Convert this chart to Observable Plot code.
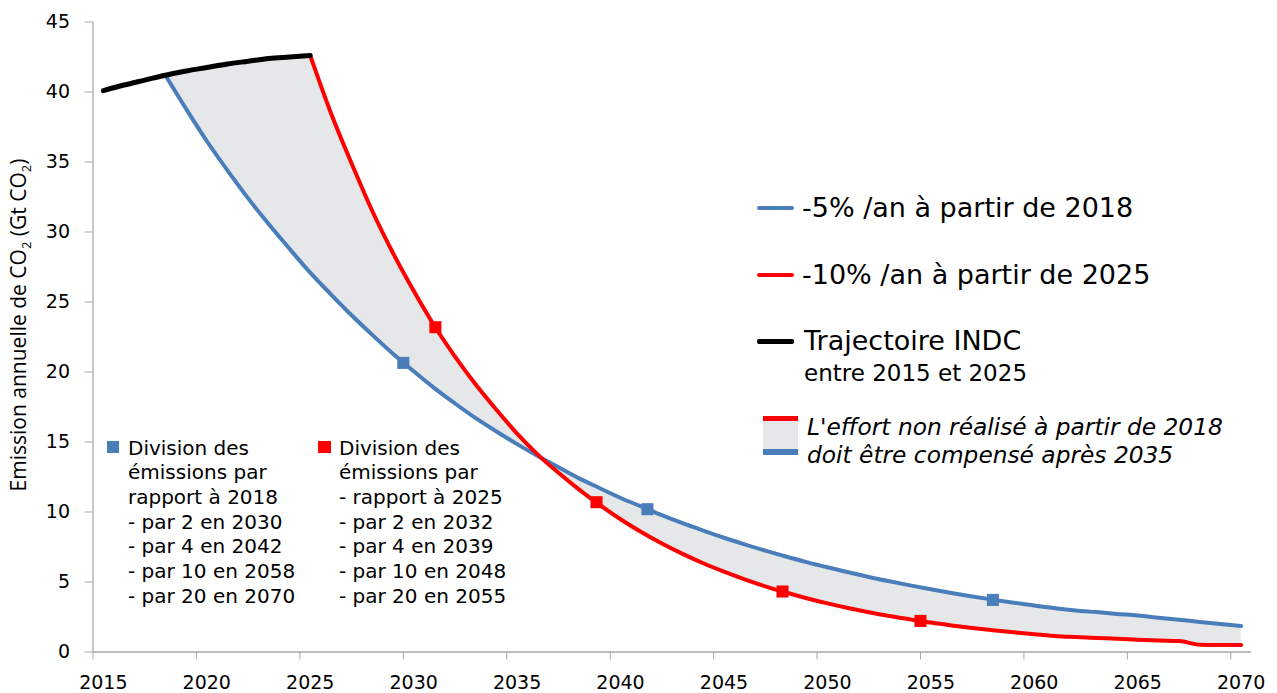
<!DOCTYPE html>
<html><head><meta charset="utf-8">
<script src="https://cdn.jsdelivr.net/npm/d3@7"></script>
<script src="https://cdn.jsdelivr.net/npm/@observablehq/plot@0.6"></script>
<style>
body{margin:0;background:#fff;}
#wrap{position:relative;width:1277px;height:693px;overflow:hidden;font-family:"DejaVu Sans",Verdana,sans-serif;color:#000;}
.t{position:absolute;white-space:nowrap;}
.sw{position:absolute;}
</style></head>
<body><div id="wrap"></div>
<script>
// INDC trajectory 2015-2025
const blackYears = [2015,2016,2017,2018,2019,2020,2021,2022,2023,2024,2025];
const blackVals  = [40.1,40.5,40.85,41.2,41.5,41.75,42.0,42.2,42.4,42.5,42.6];
// -5%/an from 2018
const blueYears = d3.range(2018, 2071);
const blueVals = [41.2,38.8,36.5,34.4,32.4,30.55,28.8,27.1,25.55,24.05,22.65,21.3,20.05,18.85,17.75,16.7,15.75,14.85,14.0,13.2,12.4,11.7,11.0,10.4,9.77,9.20,8.67,8.16,7.69,7.24,6.82,6.42,6.05,5.70,5.36,5.05,4.76,4.48,4.22,3.97,3.74,3.52,3.32,3.13,2.97,2.85,2.72,2.6,2.45,2.3,2.15,2.0,1.85];
// -10%/an from 2025
const redYears = d3.range(2025, 2071);
const redVals = [42.6,38.5,34.9,31.5,28.5,25.8,23.3,21.1,19.1,17.3,15.6,14.1,12.8,11.6,10.5,9.48,8.57,7.75,7.01,6.34,5.74,5.19,4.69,4.25,3.84,3.47,3.14,2.84,2.57,2.33,2.10,1.90,1.72,1.56,1.41,1.27,1.15,1.07,1.0,0.95,0.88,0.82,0.78,0.52,0.5,0.5];
// division markers
const blueMarkYears = [2029.5, 2041.3, 2058.0];
const blueMarkVals  = [20.65, 10.2, 3.72];
const redMarkYears  = [2031.05, 2038.84, 2047.83, 2054.5];
const redMarkVals   = [23.2, 10.7, 4.32, 2.22];
// axes
const xLabelYears = [2015,2020,2025,2030,2035,2040,2045,2050,2055,2060,2065,2070];
const xTickPos = xLabelYears.map(y => y - 0.5);
const yTicks = [0,5,10,15,20,25,30,35,40,45];

const BLUE = "#4a7ebb", RED = "#ff0000", GRAY = "#e6e7e9", AX = "#a9a9a9";

const black = blackYears.map((x,i)=>({x, y: blackVals[i]}));
const blue = blueYears.map((x,i)=>({x, y: blueVals[i]}));
const red = redYears.map((x,i)=>({x, y: redVals[i]}));
const band = blueYears.map((x,i)=>({x, lo: blueVals[i], hi: x <= 2025 ? blackVals[blackYears.indexOf(x)] : redVals[redYears.indexOf(x)]}));
const bm = blueMarkYears.map((x,i)=>({x, y: blueMarkVals[i]}));
const rm = redMarkYears.map((x,i)=>({x, y: redMarkVals[i]}));

const chart = Plot.plot({
  width: 1277, height: 693,
  marginLeft: 92.5, marginRight: 26, marginTop: 21.5, marginBottom: 41.5,
  style: {fontFamily: "DejaVu Sans, Verdana, sans-serif", fontSize: "19px", color: "#000", background: "transparent", overflow: "visible"},
  x: {domain: [2014.5, 2070.5]},
  y: {domain: [0, 45]},
  marks: [
    Plot.areaY(band, {x: "x", y1: "lo", y2: "hi", fill: GRAY, curve: "monotone-x"}),
    Plot.ruleY([0], {stroke: AX, strokeWidth: 1.3}),
    Plot.ruleX([2014.5], {stroke: AX, strokeWidth: 1.3}),
    Plot.axisY({ticks: yTicks, tickSize: 8, tickPadding: 15, label: null, stroke: AX, fill: "#000"}),
    Plot.axisX(xTickPos, {tickSize: 8, tickFormat: () => "", label: null, stroke: AX}),
    Plot.axisX({ticks: xLabelYears, tickSize: 0, tickPadding: 23, tickFormat: d => String(d), label: null, fill: "#000"}),
    Plot.line(blue, {x: "x", y: "y", stroke: BLUE, strokeWidth: 4, curve: "monotone-x"}),
    Plot.line(red, {x: "x", y: "y", stroke: RED, strokeWidth: 4, curve: "monotone-x"}),
    Plot.line(black, {x: "x", y: "y", stroke: "#000", strokeWidth: 5, curve: "monotone-x", strokeLinecap: "round"}),
    Plot.dot(bm, {x: "x", y: "y", symbol: "square", r: 6.8, fill: BLUE}),
    Plot.dot(rm, {x: "x", y: "y", symbol: "square", r: 6.8, fill: RED})
  ]
});
const wrap = document.getElementById("wrap");
chart.style.position = "absolute"; chart.style.left = "0"; chart.style.top = "0";
wrap.appendChild(chart);

function add(html, css, cls="t"){ const d=document.createElement("div"); d.className=cls; d.innerHTML=html; Object.assign(d.style, css); wrap.appendChild(d); return d; }

// Y axis title
add('Emission annuelle de CO<sub style="font-size:13px;line-height:0">2</sub> (Gt CO<sub style="font-size:13px;line-height:0">2</sub>)',
  {left:"18px", top:"325px", transform:"translate(-50%,-50%) rotate(-90deg)", fontFamily:"'Open Sans',sans-serif", fontSize:"21px", lineHeight:"24px"});

// right legend
add('', {left:"757px", top:"206px", width:"37px", height:"4px", background:BLUE, borderRadius:"2px"}, "sw");
add('-5% /an à partir de 2018', {left:"802px", top:"192px", fontSize:"27px", lineHeight:"32px"});
add('', {left:"757px", top:"273px", width:"37px", height:"4px", background:RED, borderRadius:"2px"}, "sw");
add('-10% /an à partir de 2025', {left:"802px", top:"259px", fontSize:"27px", lineHeight:"32px"});
add('', {left:"757px", top:"339px", width:"37px", height:"5px", background:"#000", borderRadius:"2px"}, "sw");
add('Trajectoire INDC', {left:"804px", top:"325px", fontSize:"27px", lineHeight:"32px"});
add('entre 2015 et 2025', {left:"804px", top:"359px", fontSize:"23px", lineHeight:"28px"});
add('', {left:"763px", top:"416px", width:"35px", height:"39px", background:GRAY, borderTop:"5px solid "+RED, borderBottom:"6px solid "+BLUE, boxSizing:"border-box"}, "sw");
add("L'effort non réalisé à partir de 2018<br>doit être compensé après 2035", {left:"807px", top:"413px", fontSize:"23.3px", lineHeight:"28px", fontStyle:"italic"});

// left annotations
add('', {left:"107px", top:"441px", width:"12px", height:"12px", background:BLUE}, "sw");
add('Division des<br>émissions par<br>rapport à 2018<br>- par 2 en 2030<br>- par 4 en 2042<br>- par 10 en 2058<br>- par 20 en 2070', {left:"128px", top:"435.5px", fontSize:"20px", lineHeight:"24.7px"});
add('', {left:"318px", top:"441px", width:"13px", height:"12px", background:RED}, "sw");
add('Division des<br>émissions par<br>- rapport à 2025<br>- par 2 en 2032<br>- par 4 en 2039<br>- par 10 en 2048<br>- par 20 en 2055', {left:"339px", top:"435.5px", fontSize:"20px", lineHeight:"24.7px"});
</script></body></html>
